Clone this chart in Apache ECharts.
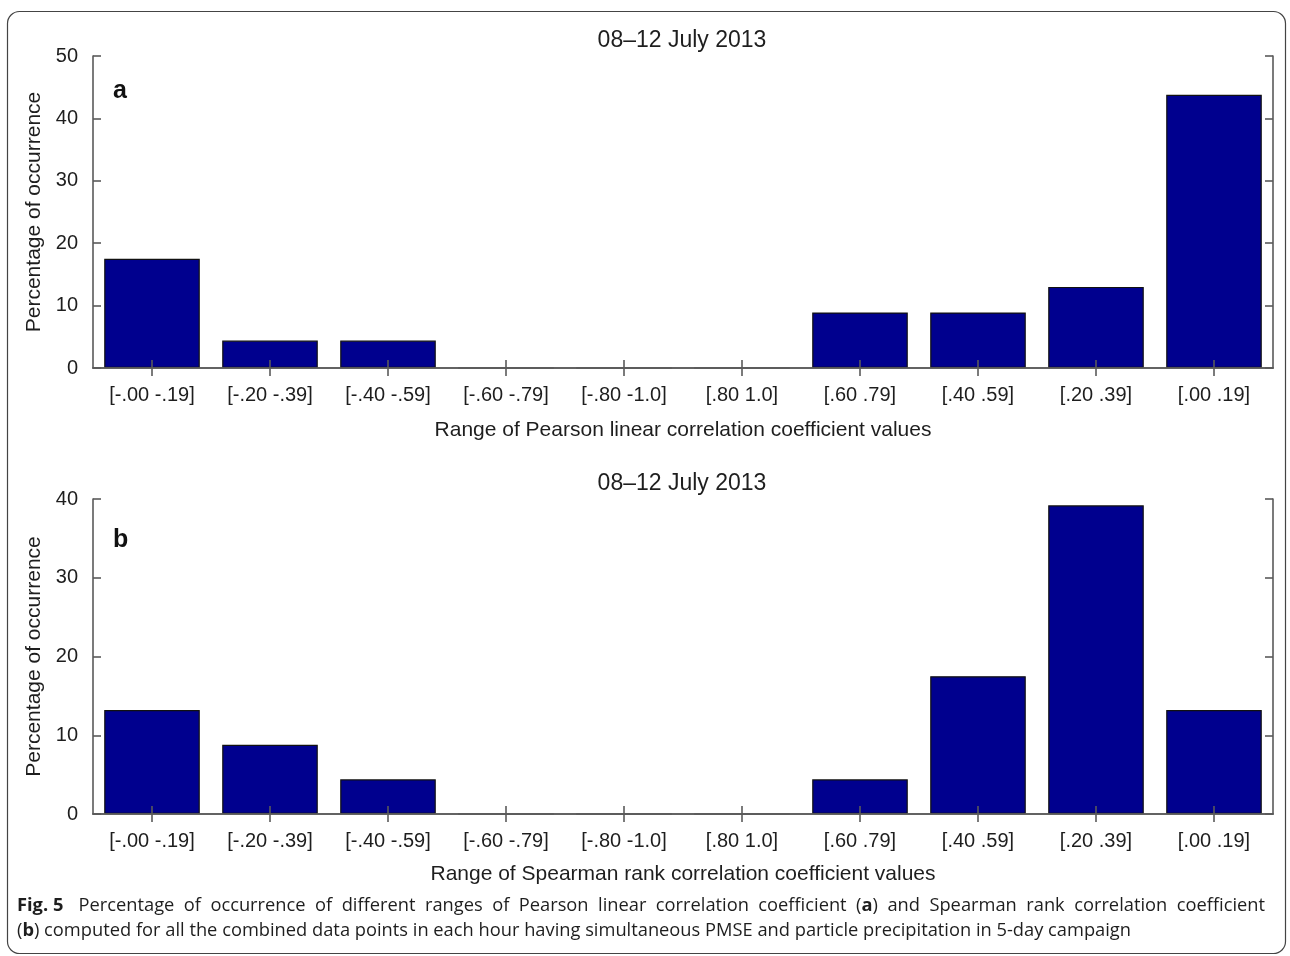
<!DOCTYPE html>
<html>
<head>
<meta charset="utf-8">
<script src="https://cdn.jsdelivr.net/npm/echarts@6/dist/echarts.min.js"></script>
<style>
html,body{margin:0;padding:0;background:#fff;}
#chart{width:1290px;height:956px;}
</style>
</head>
<body>
<div id="chart"></div>
<script>
// Correlation-coefficient ranges (shared by both panels)
const categories = ['[-.00 -.19]', '[-.20 -.39]', '[-.40 -.59]', '[-.60 -.79]', '[-.80 -1.0]',
                    '[.80 1.0]', '[.60 .79]', '[.40 .59]', '[.20 .39]', '[.00 .19]'];
// Percentage of occurrence, Pearson (panel a)
const pearsonValues = [17.5, 4.4, 4.4, 0, 0, 0, 8.9, 8.9, 13.0, 43.8];
// Percentage of occurrence, Spearman (panel b)
const spearmanValues = [13.2, 8.8, 4.4, 0, 0, 0, 4.4, 17.5, 39.2, 13.2];

const panelTitle = '08\u201312 July 2013';
const yName = 'Percentage of occurrence';
const xNameA = 'Range of Pearson linear correlation coefficient values';
const xNameB = 'Range of Spearman rank correlation coefficient values';

// Caption lines as runs of [text, bold]
const captionLine1 = [
  [['Fig. 5', true]],
  ...'Percentage of occurrence of different ranges of Pearson linear correlation coefficient'.split(' ').map(w => [[w, false]]),
  [['(', false], ['a', true], [')', false]],
  ...'and Spearman rank correlation coefficient'.split(' ').map(w => [[w, false]])
];
const captionLine2 = [['(', false], ['b', true],
  [') computed for all the combined data points in each hour having simultaneous PMSE and particle precipitation in 5-day campaign', false]];

const FONT = '"Liberation Sans", Arial, sans-serif';
const CAP_FONT = '"Open Sans", "Noto Sans", sans-serif';
const CAP_SIZE = 18.3;
const AXIS_COLOR = '#5a5a5a';
const BAR_COLOR = '#00008e';
const TEXT_COLOR = '#1e1e1e';

function makeAxes(gridIndex, max, xName, xNameGap) {
  const tick = { show: true, inside: true, length: 8, interval: 0, alignWithLabel: true,
                 lineStyle: { color: AXIS_COLOR, width: 1.6 } };
  const line = { show: true, lineStyle: { color: AXIS_COLOR, width: 1.6 } };
  const xAxes = [
    {
      type: 'category', gridIndex, data: categories, position: 'bottom', z: 5,
      axisLine: line, axisTick: tick,
      axisLabel: { color: TEXT_COLOR, fontFamily: FONT, fontSize: 20, margin: 17, interval: 0 },
      name: xName, nameLocation: 'middle', nameGap: xNameGap,
      nameTextStyle: { color: TEXT_COLOR, fontFamily: FONT, fontSize: 21 }
    },
    {
      type: 'category', gridIndex, data: categories, position: 'top', z: 5,
      axisLine: line, axisTick: tick, axisLabel: { show: false }
    }
  ];
  const yTick = { show: true, inside: true, length: 8, lineStyle: { color: AXIS_COLOR, width: 1.6 } };
  const yAxes = [
    {
      type: 'value', gridIndex, min: 0, max, interval: 10, position: 'left', z: 5,
      axisLine: line, axisTick: yTick, splitLine: { show: false },
      axisLabel: { color: TEXT_COLOR, fontFamily: FONT, fontSize: 20, margin: 15 },
      name: yName, nameLocation: 'middle', nameGap: 47,
      nameTextStyle: { color: TEXT_COLOR, fontFamily: FONT, fontSize: 21 }
    },
    {
      type: 'value', gridIndex, min: 0, max, interval: 10, position: 'right', z: 5,
      axisLine: line, axisTick: yTick, splitLine: { show: false },
      axisLabel: { show: false }
    }
  ];
  return { xAxes, yAxes };
}

const axA = makeAxes(0, 50, xNameA, 52);
const axB = makeAxes(1, 40, xNameB, 50);

const barStyle = { color: BAR_COLOR, borderColor: '#111', borderWidth: 1.2 };

// ---- caption layout: first line justified between the frame margins ----
const measureCtx = document.createElement('canvas').getContext('2d');
function capFont(bold) { return (bold ? 'bold ' : '') + CAP_SIZE + 'px ' + CAP_FONT; }
function runWidth(runs) {
  return runs.reduce((s, [t, b]) => { measureCtx.font = capFont(b); return s + measureCtx.measureText(t).width; }, 0);
}
function richText(runs) {
  return runs.map(([t, b]) => '{' + (b ? 'b' : 'n') + '|' + t + '}').join('');
}
const capRich = {
  b: { font: capFont(true), fill: TEXT_COLOR },
  n: { font: capFont(false), fill: TEXT_COLOR }
};
const CAP_LEFT = 17, CAP_RIGHT = 1265;
const wordWidths = captionLine1.map(runWidth);
const totalWords = wordWidths.reduce((a, b) => a + b, 0);
const gapUnits = (captionLine1.length - 1) + 0.6; // slightly wider gap after "Fig. 5"
const gap = (CAP_RIGHT - CAP_LEFT - totalWords) / gapUnits;
const captionGraphics = [];
let cx = CAP_LEFT;
captionLine1.forEach((runs, i) => {
  captionGraphics.push({ type: 'text', x: cx, y: 906,
    style: { text: richText(runs), rich: capRich, verticalAlign: 'middle' } });
  cx += wordWidths[i] + gap * (i === 0 ? 1.6 : 1);
});
captionGraphics.push({ type: 'text', x: CAP_LEFT, y: 931,
  style: { text: richText(captionLine2), rich: capRich, verticalAlign: 'middle' } });

const titleStyle = { fontFamily: FONT, fontSize: 23, fontWeight: 'normal', color: TEXT_COLOR };

const option = {
  backgroundColor: '#fff',
  animation: false,
  title: [
    { text: panelTitle, left: 677, top: 24, textAlign: 'center', textStyle: titleStyle },
    { text: panelTitle, left: 677, top: 467, textAlign: 'center', textStyle: titleStyle }
  ],
  grid: [
    { left: 93, top: 56, width: 1180, height: 312 },
    { left: 93, top: 499, width: 1180, height: 315 }
  ],
  xAxis: [...axA.xAxes, ...axB.xAxes],
  yAxis: [...axA.yAxes, ...axB.yAxes],
  series: [
    { type: 'bar', xAxisIndex: 0, yAxisIndex: 0, data: pearsonValues,
      barCategoryGap: '19%', itemStyle: barStyle },
    { type: 'bar', xAxisIndex: 2, yAxisIndex: 2, data: spearmanValues,
      barCategoryGap: '19%', itemStyle: barStyle }
  ],
  graphic: [
    // rounded frame around the figure
    { type: 'rect', left: 5, top: 9, z: -1,
      shape: { width: 1278, height: 942, r: 12 },
      style: { fill: 'none', stroke: '#444', lineWidth: 1.2 } },
    // panel letters
    { type: 'text', left: 113, top: 79,
      style: { text: 'a', font: 'bold 25px ' + FONT, fill: '#111' } },
    { type: 'text', left: 113, top: 528,
      style: { text: 'b', font: 'bold 25px ' + FONT, fill: '#111' } },
    ...captionGraphics
  ]
};

const chart = echarts.init(document.getElementById('chart'), null, { renderer: 'canvas' });
chart.setOption(option);
</script>
</body>
</html>
